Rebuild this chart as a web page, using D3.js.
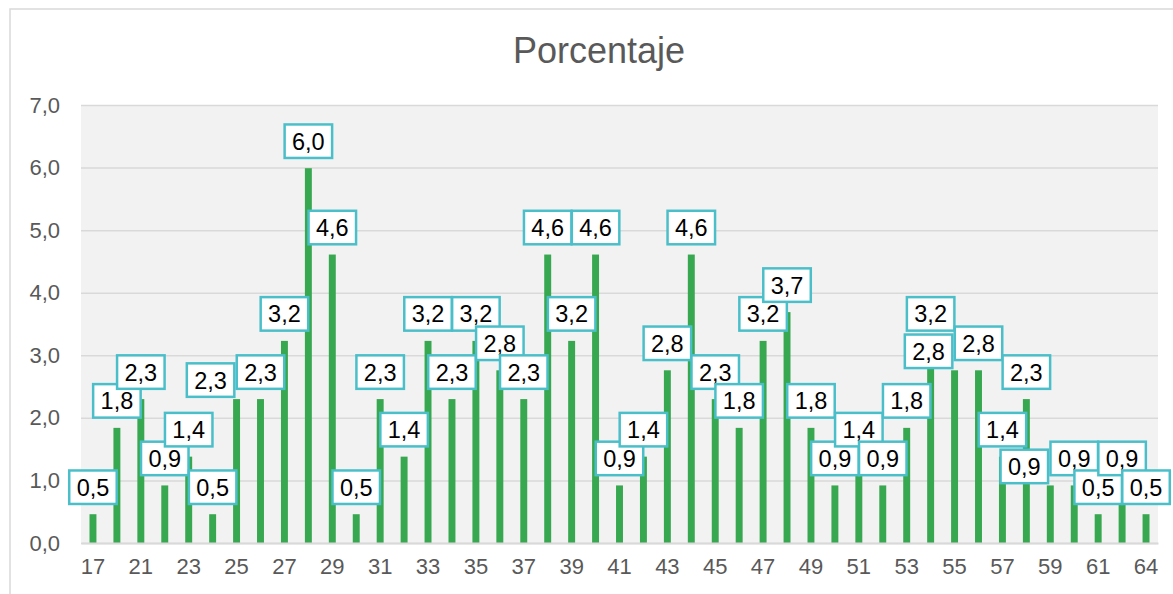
<!DOCTYPE html>
<html>
<head>
<meta charset="utf-8">
<script src="https://cdn.jsdelivr.net/npm/d3@7"></script>
<style>
  html, body { margin: 0; padding: 0; background: #ffffff; }
  svg { display: block; }
</style>
</head>
<body>
<script>
// ---- data ----
const categories = ["17","19","21","22","23","24","25","26","27","28",
                    "29","30","31","32","33","34","35","36","37","38",
                    "39","40","41","42","43","44","45","46","47","48",
                    "49","50","51","52","53","54","55","56","57","58",
                    "59","60","61","62","64"];
const values = [0.46,1.84,2.30,0.92,1.38,0.46,2.30,2.30,3.23,5.99,
                4.61,0.46,2.30,1.38,3.23,2.30,3.23,2.76,2.30,4.61,
                3.23,4.61,0.92,1.38,2.76,4.61,2.30,1.84,3.23,3.69,
                1.84,0.92,1.38,0.92,1.84,3.23,2.76,2.76,1.38,2.30,
                0.92,0.92,0.46,0.92,0.46];
const xTickLabels = ["17","21","23","25","27","29","31","33","35","37","39",
                     "41","43","45","47","49","51","53","55","57","59","61","64"];
const yTicks = [0,1,2,3,4,5,6,7];
const title = "Porcentaje";

// ---- layout ----
const W = 1173, H = 594;
const plot = {left: 81, right: 1158, top: 105, bottom: 543};
const fmt = v => d3.format(".1f")(v).replace(".", ",");
const FONT = "Liberation Sans, Arial, sans-serif";

const svg = d3.select("body").append("svg").attr("width", W).attr("height", H);

// chart area border
svg.append("rect")
  .attr("x", 10).attr("y", 9).attr("width", 1180).attr("height", 600)
  .attr("fill", "#ffffff").attr("stroke", "#d9d9d9").attr("stroke-width", 1.5);

// plot background
svg.append("rect")
  .attr("x", plot.left).attr("y", plot.top)
  .attr("width", plot.right - plot.left).attr("height", plot.bottom - plot.top)
  .attr("fill", "#f2f2f2");

const x = d3.scaleBand().domain(categories)
  .range([plot.left, plot.right]).paddingInner(0.71).paddingOuter(0.355);
const y = d3.scaleLinear().domain([0, 7]).range([plot.bottom, plot.top]);

// title
svg.append("text")
  .attr("x", 599).attr("y", 63)
  .attr("text-anchor", "middle")
  .attr("font-family", FONT)
  .attr("font-size", 36).attr("fill", "#595959")
  .text(title);

// y axis + gridlines
const yAxis = d3.axisLeft(y).tickValues(yTicks).tickFormat(fmt)
  .tickSize(-(plot.right - plot.left)).tickPadding(21);
const gy = svg.append("g").attr("transform", `translate(${plot.left},0)`).call(yAxis);
gy.select(".domain").remove();
gy.selectAll(".tick line").attr("stroke", "#d9d9d9").attr("stroke-width", 1.5);
gy.selectAll(".tick text")
  .attr("font-family", FONT)
  .attr("font-size", 22).attr("fill", "#595959");

// bars
svg.append("g").selectAll("rect").data(values).join("rect")
  .attr("x", (d, i) => x(categories[i]))
  .attr("y", d => y(d))
  .attr("width", x.bandwidth())
  .attr("height", d => y(0) - y(d))
  .attr("fill", "#37a84f");

// x axis
const xAxis = d3.axisBottom(x)
  .tickValues(categories.filter(c => xTickLabels.includes(c)))
  .tickSize(0).tickPadding(15);
const gx = svg.append("g").attr("transform", `translate(0,${plot.bottom})`).call(xAxis);
gx.select(".domain").attr("stroke", "#d9d9d9").attr("stroke-width", 2);
gx.selectAll(".tick text")
  .attr("font-family", FONT)
  .attr("font-size", 22).attr("fill", "#595959");

// data labels with simple collision avoidance (right to left)
const LW = 50, LH = 36, inset = 4;
const placed = [];
function collides(b) {
  return placed.some(p =>
    Math.min(b.x1, p.x1) - Math.max(b.x0, p.x0) > 2 * inset &&
    Math.min(b.y1, p.y1) - Math.max(b.y0, p.y0) > 2 * inset);
}
const labels = [];
for (let i = values.length - 1; i >= 0; i--) {
  const cx = x(categories[i]) + x.bandwidth() / 2;
  const by = y(values[i]);
  const cands = [
    [cx - LW / 2, by - 9 - LH],        // centered above
    [cx - LW - 1, by - LH - 1],        // left, resting on bar top
    [cx + 1, by - LH - 1],             // right, resting on bar top
    [cx - LW / 2, by - 9 - 2 * LH + 8],// higher above
    [cx - LW - 1, by - 2 * LH],        // upper left
    [cx + 1, by - 2 * LH]              // upper right
  ];
  let box = null;
  for (const c of cands) {
    const b = {x0: c[0], y0: c[1], x1: c[0] + LW, y1: c[1] + LH};
    if (!collides(b)) { box = b; break; }
  }
  if (!box) box = {x0: cands[0][0], y0: cands[0][1], x1: cands[0][0] + LW, y1: cands[0][1] + LH};
  placed.push(box);
  labels.push({i, box});
}
labels.sort((a, b) => a.i - b.i);

const gl = svg.append("g").selectAll("g").data(labels).join("g");
gl.append("rect")
  .attr("x", d => d.box.x0 + 1.25).attr("y", d => d.box.y0 + 1.25)
  .attr("width", LW - 2.5).attr("height", LH - 2.5)
  .attr("fill", "#ffffff").attr("stroke", "#4bbfc9").attr("stroke-width", 2.5);
gl.append("text")
  .attr("x", d => d.box.x0 + LW / 2).attr("y", d => d.box.y0 + LH / 2 + 8.5)
  .attr("text-anchor", "middle")
  .attr("font-family", FONT)
  .attr("font-size", 23.5).attr("fill", "#000000")
  .text(d => fmt(values[d.i]));
</script>
</body>
</html>
